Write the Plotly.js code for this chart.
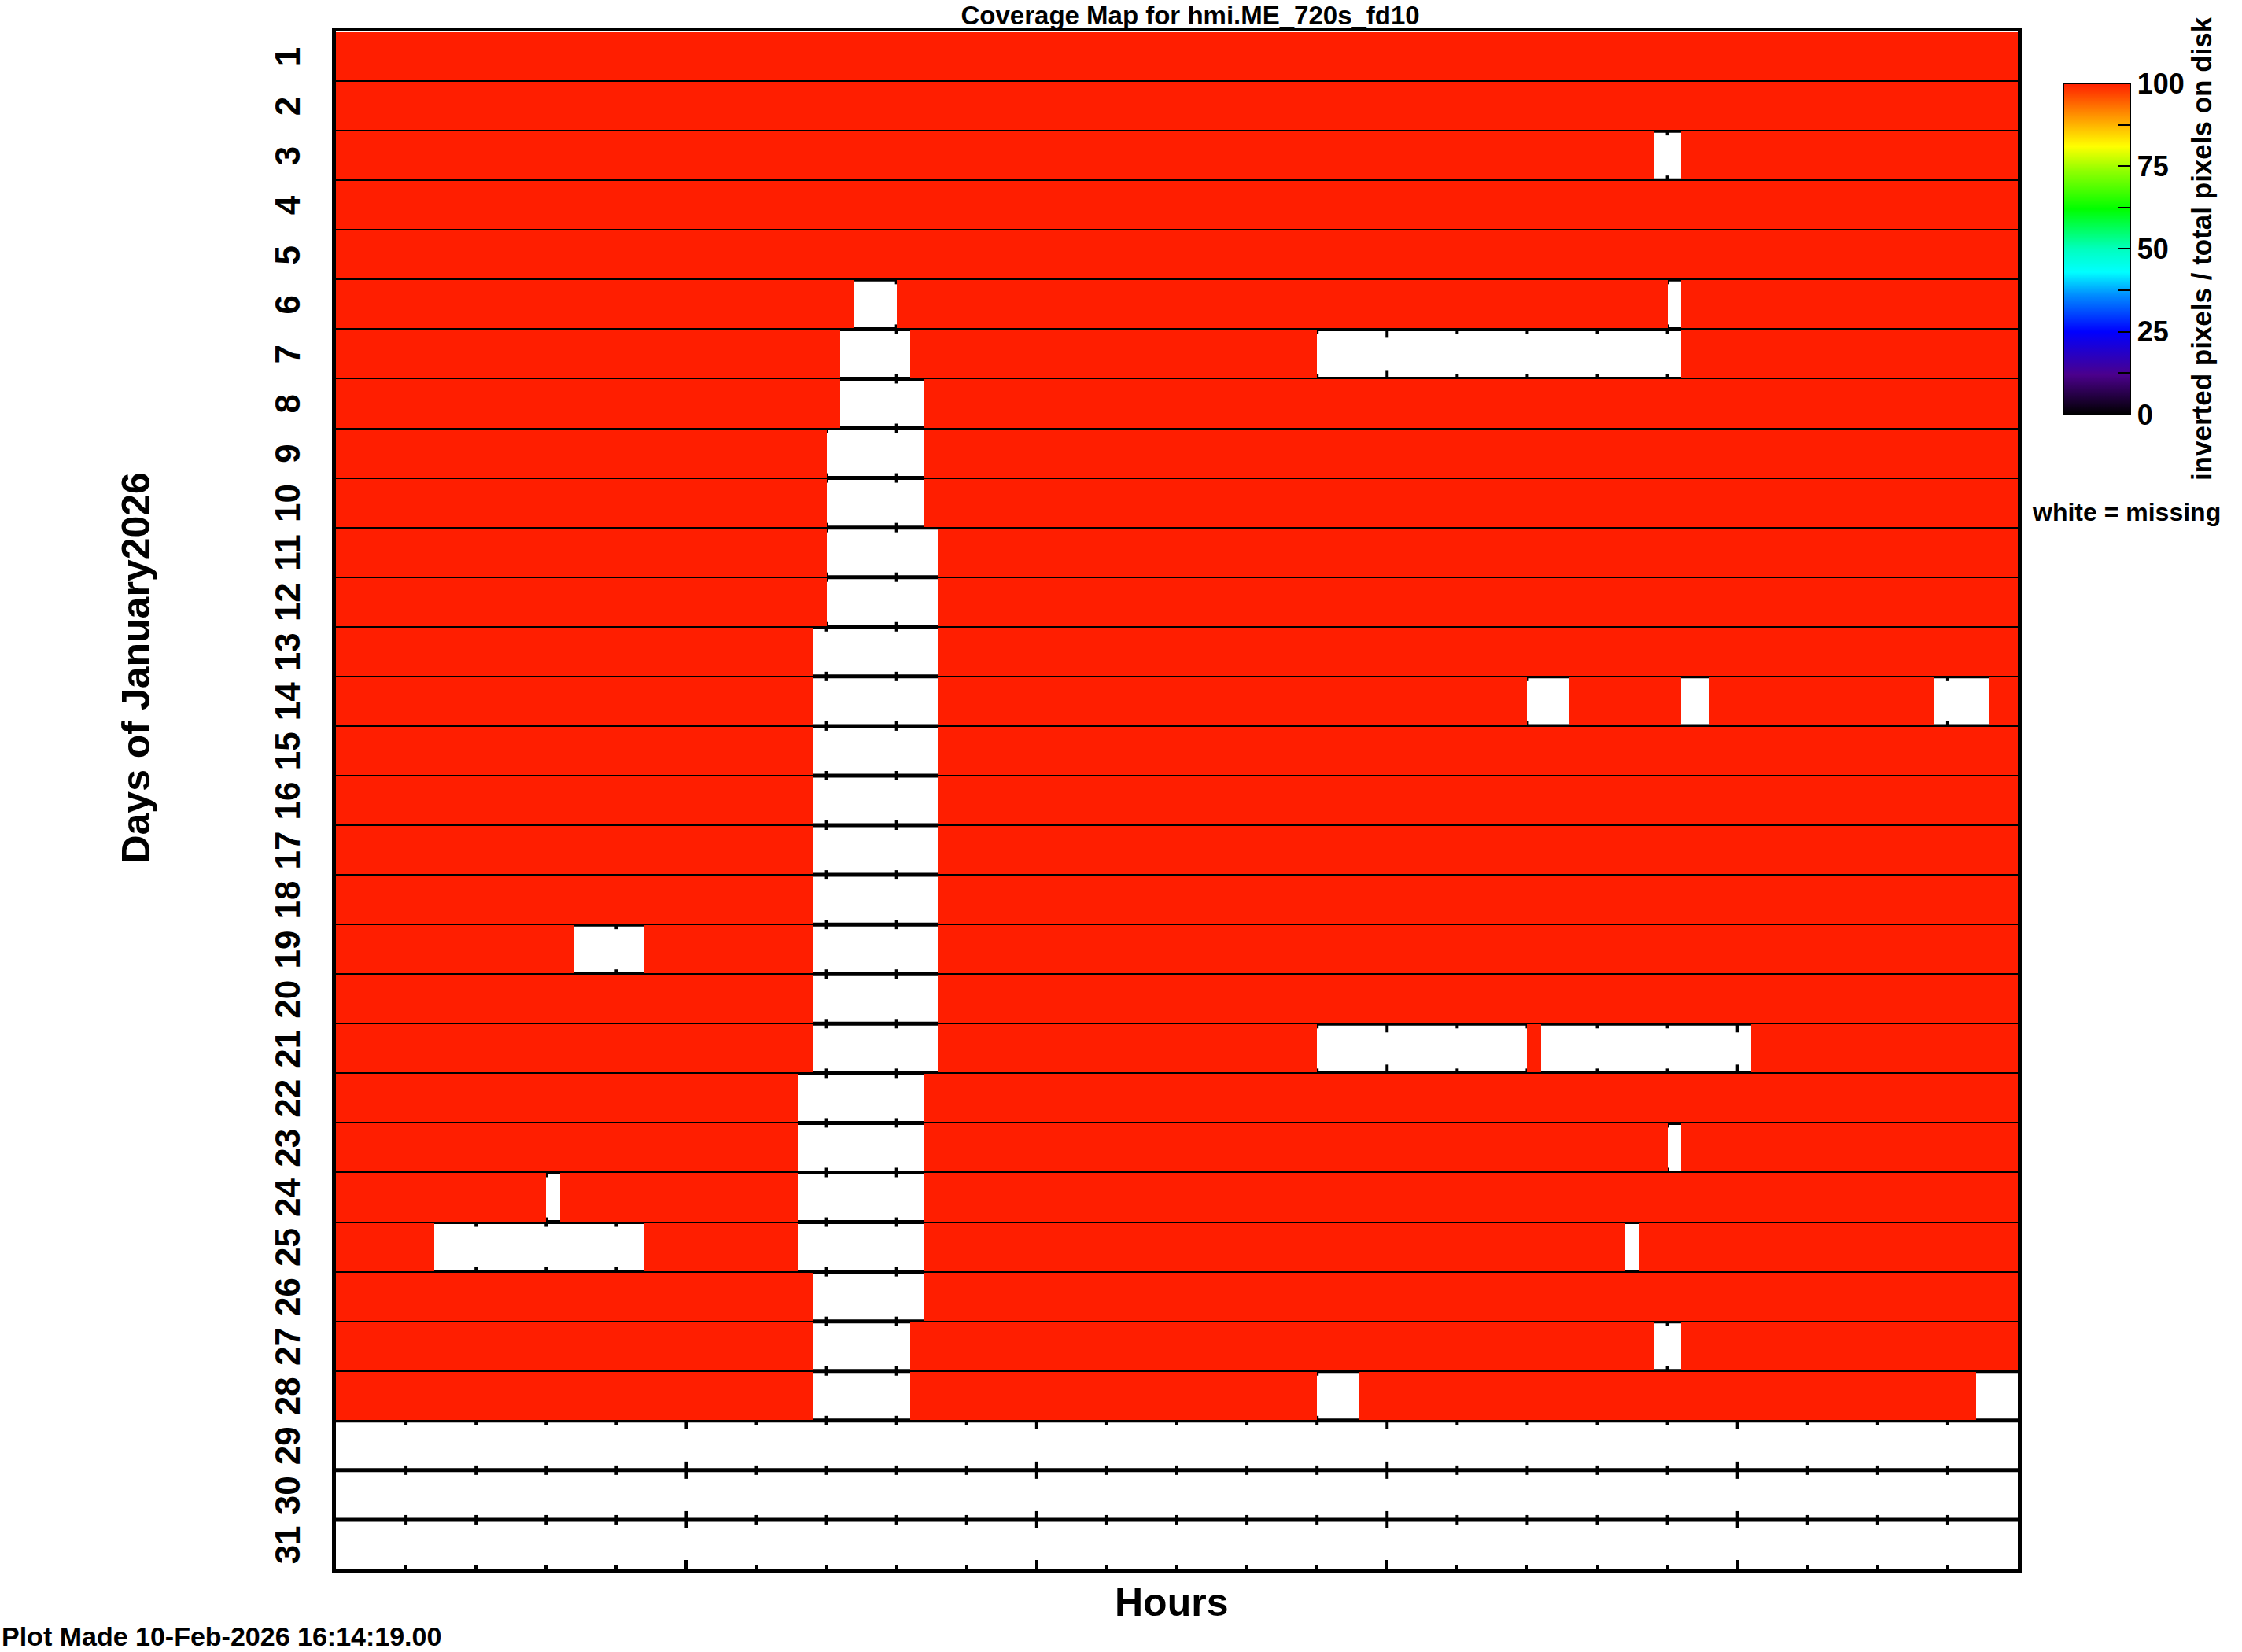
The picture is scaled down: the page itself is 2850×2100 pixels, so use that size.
<!DOCTYPE html>
<html><head><meta charset="utf-8">
<script src="https://cdn.plot.ly/plotly-3.0.1.min.js"></script>
<style>html,body{margin:0;padding:0;background:#fff}</style>
</head><body>
<div id="chart" style="width:2850px;height:2100px"></div>
<script>
// ---------------- data ----------------
const dayLabels = ['1','2','3','4','5','6','7','8','9','10','11','12','13','14','15','16',
  '17','18','19','20','21','22','23','24','25','26','27','28','29','30','31'];
// percent of inverted pixels per day (null = no data at all)
const dayCoverage = [100,100,100,100,100,100,100,100,100,100,100,100,100,100,100,100,
  100,100,100,100,100,100,100,100,100,100,100,100,null,null,null];
// missing intervals (hours)
const gapDay   = [3,    6,   6,    7,   7,    8,   9,   10,  11,  12,  13,  14,  14,   14,   14,
                  15,  16,  17,  18,  19,  19,  20,  21,  21,   21,   22,  23,  23,   24,  24,
                  25,  25,  25,   26,  27,  27,   28,  28,   28];
const gapStart = [18.8, 7.4, 19.0, 7.2, 14.0, 7.2, 7.0, 7.0, 7.0, 7.0, 6.8, 6.8, 17.0, 19.2, 22.8,
                  6.8, 6.8, 6.8, 6.8, 3.4, 6.8, 6.8, 6.8, 14.0, 17.2, 6.6, 6.6, 19.0, 3.0, 6.6,
                  1.4, 6.6, 18.4, 6.8, 6.8, 18.8, 6.8, 14.0, 23.4];
const gapEnd   = [19.2, 8.0, 19.2, 8.2, 19.2, 8.4, 8.4, 8.4, 8.6, 8.6, 8.6, 8.6, 17.6, 19.6, 23.6,
                  8.6, 8.6, 8.6, 8.6, 4.4, 8.6, 8.6, 8.6, 17.0, 20.2, 8.4, 8.4, 19.2, 3.2, 8.4,
                  4.4, 8.4, 18.6, 8.4, 8.2, 19.2, 8.2, 14.6, 24.0];
const cbTickVals = [0, 12.5, 25, 37.5, 50, 62.5, 75, 87.5, 100];
const cbTickText = ['0', '', '25', '', '50', '', '75', '', '100'];

// ---------------- build grid ----------------
const slotsPerHour = 5;              // 720 s cadence
const nSlots = 24 * slotsPerHour;
const xCenters = [];
for (let i = 0; i < nSlots; i++) xCenters.push((i + 0.5) / slotsPerHour);
const yDays = dayLabels.map(Number);
const z = yDays.map((d, di) => xCenters.map(t => {
  if (dayCoverage[di] === null) return null;
  for (let g = 0; g < gapDay.length; g++) {
    if (gapDay[g] === d && t > gapStart[g] && t < gapEnd[g]) return null;
  }
  return dayCoverage[di];
}));

const FONT = '"Liberation Sans", Arial, Helvetica, sans-serif';
const rainbow = [
  [0.00, 'rgb(0,0,0)'],
  [0.12, 'rgb(75,0,140)'],
  [0.25, 'rgb(0,0,255)'],
  [0.36, 'rgb(0,140,255)'],
  [0.43, 'rgb(0,255,255)'],
  [0.50, 'rgb(0,255,190)'],
  [0.62, 'rgb(0,255,0)'],
  [0.74, 'rgb(150,255,0)'],
  [0.81, 'rgb(255,255,0)'],
  [0.90, 'rgb(255,150,0)'],
  [1.00, 'rgb(255,30,0)']
];

// colorbar geometry (paper units)
const plotW = 2850 - 427 - 285, plotH = 2100 - 40 - 105;
const cbX = 1.027, cbThick = 85, cbLenPx = 421, cbY = 0.8586;
const cbLen = cbLenPx / plotH;

// ---------------- shapes: per-row axis boxes ----------------
const shapes = [];
for (let k = 1; k < dayLabels.length; k++) {
  const yb = k + 0.5;
  shapes.push({type: 'line', layer: 'below', xref: 'x', yref: 'y',
    x0: 0, x1: 24, y0: yb, y1: yb, line: {color: 'black', width: 5}});
  for (let h = 1; h < 24; h++) {
    const L = (h % 5 === 0) ? 11 : 6;
    shapes.push({type: 'line', layer: 'below', xref: 'x', yref: 'y',
      ysizemode: 'pixel', yanchor: yb, x0: h, x1: h, y0: -L, y1: L,
      line: {color: 'black', width: 4}});
  }
}
// left-side ticks inside the colorbar
cbTickVals.forEach(v => {
  if (v === 0 || v === 100) return;
  const yy = cbY - cbLen / 2 + cbLen * v / 100;
  shapes.push({type: 'line', xref: 'paper', yref: 'paper',
    x0: cbX, x1: cbX + 16 / plotW, y0: yy, y1: yy, line: {color: 'black', width: 2}});
});

const trace = {
  type: 'heatmap', x: xCenters, y: yDays, z: z,
  zmin: 0, zmax: 100, zsmooth: false, ygap: 2, xgap: 0,
  colorscale: rainbow, hoverinfo: 'skip',
  colorbar: {
    x: cbX, xanchor: 'left', xpad: 0, ypad: 0,
    y: cbY, yanchor: 'middle',
    thicknessmode: 'pixels', thickness: cbThick,
    lenmode: 'pixels', len: cbLenPx,
    outlinecolor: 'black', outlinewidth: 2,
    tickmode: 'array', tickvals: cbTickVals, ticktext: cbTickText,
    ticks: 'inside', ticklen: 16, tickwidth: 2, tickcolor: 'black',
    tickfont: {family: FONT, size: 36, weight: 'bold', color: 'black'},
    title: {text: 'inverted pixels / total pixels on disk', side: 'right',
            font: {family: FONT, size: 35, weight: 'bold', color: 'black'}}
  }
};

const layout = {
  width: 2850, height: 2100,
  margin: {l: 427, r: 285, t: 40, b: 105},
  paper_bgcolor: 'white', plot_bgcolor: 'white',
  font: {family: FONT, color: 'black'},
  showlegend: false,
  title: {text: 'Coverage Map for hmi.ME_720s_fd10', x: 0.508, xref: 'paper', xanchor: 'center',
          y: 1 - 19 / 2100, yref: 'container', yanchor: 'middle',
          font: {family: FONT, size: 33, weight: 'bold', color: 'black'}},
  xaxis: {range: [0, 24], showgrid: false, zeroline: false, showticklabels: false,
          showline: true, linecolor: 'black', linewidth: 5, mirror: true,
          ticks: 'inside', tickmode: 'linear', tick0: 0, dtick: 5, ticklen: 12, tickwidth: 4, tickcolor: 'black',
          minor: {ticks: 'inside', dtick: 1, ticklen: 6, tickwidth: 4, tickcolor: 'black', showgrid: false},
          layer: 'below traces', fixedrange: true},
  yaxis: {range: [31.5, 0.5], showgrid: false, zeroline: false,
          showline: true, linecolor: 'black', linewidth: 5, mirror: true,
          tickmode: 'array', tickvals: yDays, ticktext: dayLabels, ticks: '',
          tickangle: -90, ticklabelstandoff: 23, ticklabelshift: -7,
          tickfont: {family: FONT, size: 44, weight: 'bold', color: 'black'},
          layer: 'below traces', fixedrange: true},
  shapes: shapes,
  annotations: [
    {text: 'Hours', xref: 'paper', yref: 'paper', x: 0.4967, y: -0.0215,
     xanchor: 'center', yanchor: 'middle', showarrow: false,
     font: {family: FONT, size: 50, weight: 'bold', color: 'black'}},
    {text: 'Days of January2026', xref: 'paper', yref: 'paper', x: -0.1188, y: 0.5864,
     xanchor: 'center', yanchor: 'middle', textangle: -90, showarrow: false,
     font: {family: FONT, size: 50, weight: 'bold', color: 'black'}},
    {text: 'white = missing', xref: 'paper', yref: 'paper', x: 1.0645, y: 0.6876,
     xanchor: 'center', yanchor: 'middle', showarrow: false,
     font: {family: FONT, size: 32, weight: 'bold', color: 'black'}},
    {text: 'Plot Made 10-Feb-2026 16:14:19.00', xref: 'paper', yref: 'paper', x: -427 / plotW, y: -0.0435,
     xanchor: 'left', yanchor: 'middle', showarrow: false,
     font: {family: FONT, size: 34, weight: 'bold', color: 'black'}}
  ]
};

Plotly.newPlot('chart', [trace], layout, {displayModeBar: false, staticPlot: true});
</script>
</body></html>
